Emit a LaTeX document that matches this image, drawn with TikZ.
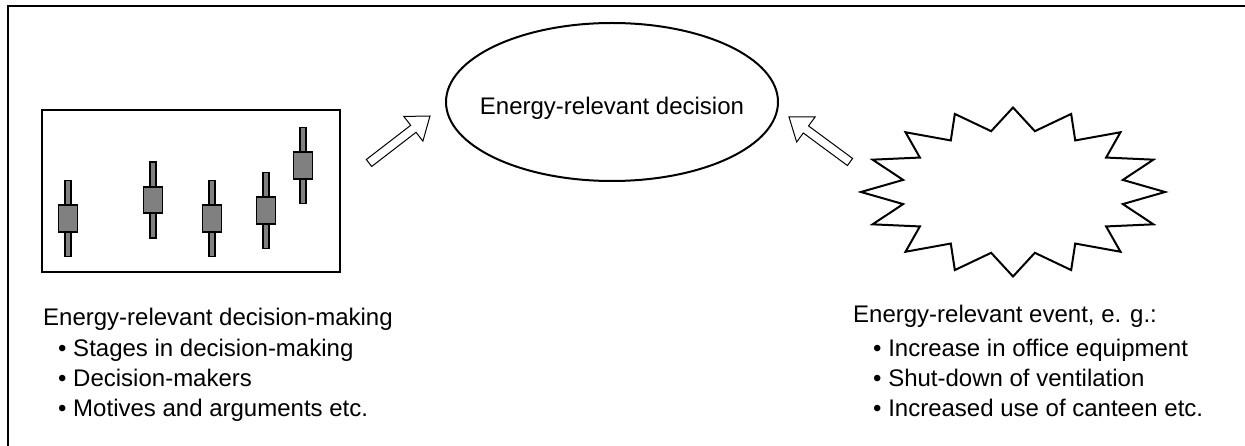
\documentclass[tikz,border=0pt]{standalone}
\usepackage{fontspec}
\setmainfont{Liberation Sans}
\usetikzlibrary{calc,shapes.geometric}
\definecolor{G5}{RGB}{128,128,128}
\tikzset{
  stick/.style={draw, line width=1.6pt, fill=G5, minimum width=5.5pt, minimum height=76pt, inner sep=0pt},
  candle/.style={draw, line width=1.6pt, fill=G5, minimum width=19pt, minimum height=26.5pt, inner sep=0pt},
  txt/.style={anchor=base west, inner sep=0pt},
  hollow/.style={draw, line width=1pt, fill=white, line join=miter},
}
\newcommand{\hollowarrow}[2]{%
  \coordinate (#2-hb) at ($(#2)!21pt!(#1)$);
  \draw[hollow] ($(#1)!4.4pt!90:(#2)$) -- ($(#2-hb)!4.4pt!90:(#2)$) -- ($(#2-hb)!15.6pt!90:(#2)$)
    -- (#2) -- ($(#2-hb)!15.6pt!-90:(#2)$) -- ($(#2-hb)!4.4pt!-90:(#2)$) -- ($(#1)!4.4pt!-90:(#2)$) -- cycle;}

\begin{document}
\begin{tikzpicture}[x=1pt, y=-1pt, font=\fontsize{24}{30}\selectfont]
      \useasboundingbox (0,0) rectangle (1245,446);
      \draw[line width=2.5pt] (8,446) -- (8,6) -- (1245,6);
      % decision-making
      \node[draw, line width=2.2pt, minimum width=298pt, minimum height=162pt, inner sep=0pt] (process) at (191,191) {};
      \foreach \cx/\cy [count=\i] in {68/218.5, 153/200, 212/218.5, 266/210.5, 303/165.5} {
        \node[stick] (stick\i) at (\cx,\cy) {};
        \node[candle] (candle\i) at (\cx,\cy) {};
      }
      \node[txt] (maketitle) at (43,326) {Energy-relevant decision-making};
      \node[txt] (make1) at (58,356) {• Stages in decision-making};
      \node[txt] (make2) at (58,386) {• Decision-makers};
      \node[txt] (make3) at (58,416) {• Motives and arguments etc.};
      % decision
      \node[draw, line width=2pt, ellipse, minimum width=332pt, minimum height=158pt] (decision) at (612,102) {};
      \node[anchor=base, inner sep=0pt] (decisiontext) at (612,115) {Energy-relevant decision};
      % event
      \draw[line width=2pt, line join=miter] (1013,107.5) \foreach \k in {1,...,31} {
        -- ({1013+(132+20*cos(180*\k))*sin(\k*11.25)}, {192-(73.25+11.25*cos(180*\k))*cos(\k*11.25)}) } -- cycle;
      \node[txt] (eventtitle) at (853,323) {Energy-relevant event, e. g.:};
      \node[txt] (event1) at (873,356) {• Increase in office equipment};
      \node[txt] (event2) at (873,386) {• Shut-down of ventilation};
      \node[txt] (event3) at (873,416) {• Increased use of canteen etc.};
      % arrows
      \coordinate (leftarrtail) at (369,163);
      \coordinate (leftarrtip) at (430,116);
      \hollowarrow{leftarrtail}{leftarrtip}
      \coordinate (rightarrtail) at (850,162);
      \coordinate (rightarrtip) at (789,117);
      \hollowarrow{rightarrtail}{rightarrtip}
    \end{tikzpicture}
\end{document}
